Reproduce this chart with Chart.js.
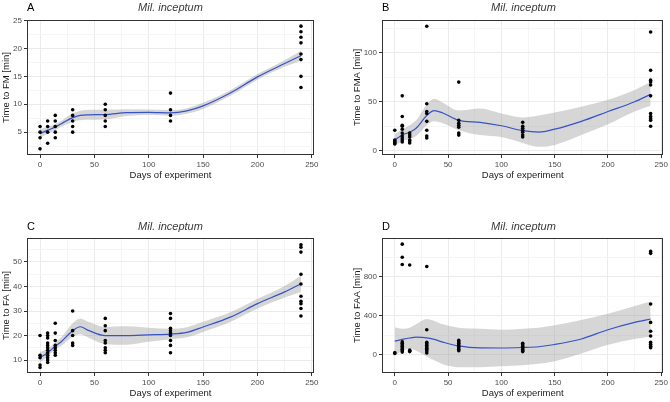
<!DOCTYPE html>
<html>
<head>
<meta charset="utf-8">
<script src="https://cdn.jsdelivr.net/npm/chart.js@4"></script>
<style>
  body { margin: 0; background: #fff; }
  #wrap { position: relative; width: 670px; height: 402px; font-family: "Liberation Sans", Arial, sans-serif; }
  canvas { position: absolute; }
  .tag { position: absolute; font-size: 11px; line-height: 13px; color: #000; }
  .ttl { position: absolute; font-size: 11px; line-height: 13px; color: #3a3a3a; font-style: italic; text-align: center; }
</style>
</head>
<body>
<div id="wrap">
  <canvas id="chartA" width="335" height="200" style="left:0;top:0"></canvas>
  <canvas id="chartB" width="335" height="200" style="left:335px;top:0"></canvas>
  <canvas id="chartC" width="335" height="202" style="left:0;top:200px"></canvas>
  <canvas id="chartD" width="335" height="202" style="left:335px;top:200px"></canvas>
  <div class="tag" style="left:27px;top:1px">A</div>
  <div class="ttl" style="left:27px;width:287px;top:1px">Mil. inceptum</div>
  <div class="tag" style="left:382px;top:1px">B</div>
  <div class="ttl" style="left:382px;width:283px;top:1px">Mil. inceptum</div>
  <div class="tag" style="left:27px;top:220px">C</div>
  <div class="ttl" style="left:27px;width:287px;top:220px">Mil. inceptum</div>
  <div class="tag" style="left:382px;top:220px">D</div>
  <div class="ttl" style="left:382px;width:283px;top:220px">Mil. inceptum</div>
</div>
<script>
// sampling days and the observed values per day
var days = [0, 7, 14, 30, 60, 120, 240];
var fmValues  = [[6, 5, 4, 2], [7, 6, 5, 3], [8, 7, 6, 5, 4], [9, 8, 7, 6, 5], [10, 9, 8, 7, 6], [12, 9, 8, 7], [24, 23, 22, 21, 19, 18, 15, 13]];
var fmaValues = [[21, 11, 10, 9, 8, 7], [56, 35, 26, 25, 22, 18, 15, 13, 11, 9], [18, 16, 14, 11, 10, 8], [127, 48, 40, 38, 30, 21, 15, 13], [70, 31, 28, 26, 24, 18, 16], [29, 25, 23, 21, 19, 16, 14], [121, 82, 72, 70, 67, 56, 38, 35, 33, 31, 25]];
var faValues  = [[20, 12, 11, 8, 7], [21, 20, 19, 17, 16, 15, 14, 13, 12, 11, 10, 9], [25, 21, 18, 16, 15, 14, 13, 12], [30, 22, 20, 17, 16], [27, 24, 22, 18, 17, 15, 14, 13], [29, 27, 23, 22, 21, 20, 18, 16, 13], [57, 56, 54, 45, 41, 36, 34, 33, 31, 28]];
var faaValues = [[20, 10], [1135, 1000, 925, 130, 115, 100, 85, 70, 55, 40, 25], [920, 45, 35, 30], [905, 255, 125, 110, 95, 80, 65, 50, 35, 15], [145, 130, 115, 100, 85, 70, 55, 40], [115, 100, 85, 70, 55, 40, 30], [1060, 1040, 520, 330, 240, 190, 125, 105, 85, 70]];

// loess fit and confidence band
var smoothDays = [0, 7, 14, 20, 30, 37, 45, 60, 80, 100, 120, 135, 150, 175, 200, 225, 240];
var fmFit    = [4.75, 5.35, 5.9, 6.55, 7.6, 8.0, 8.1, 8.15, 8.5, 8.55, 8.45, 8.8, 9.7, 12.0, 14.9, 17.3, 18.7];
var fmUpper  = [5.55, 5.95, 6.45, 7.1, 8.35, 8.85, 9.0, 9.0, 9.1, 9.05, 8.95, 9.3, 10.25, 12.5, 15.4, 17.9, 19.6];
var fmLower  = [3.95, 4.75, 5.35, 6.0, 6.85, 7.15, 7.2, 7.3, 7.9, 8.05, 7.95, 8.3, 9.15, 11.5, 14.4, 16.7, 17.8];
var fmaFit   = [11, 16, 19, 23, 36, 41, 38.5, 31, 29, 25.5, 20.5, 19, 22, 30, 40, 50, 57.5];
var fmaUpper = [17, 22, 26, 31, 47, 53, 49, 41, 43, 38, 34, 36, 39, 45, 52, 62, 70];
var fmaLower = [5, 10, 12, 15, 26, 30, 28, 21, 16, 14, 8, 4, 6, 16, 27, 40, 46];
var faFit    = [11, 13, 15.7, 17.7, 22, 23.6, 22, 20, 20, 20.3, 20.6, 21.3, 23.5, 27.5, 33, 37.8, 41.1];
var faUpper  = [13.3, 14.6, 17.1, 19.5, 25, 27, 25.5, 23.5, 23.8, 23.2, 22.8, 23.4, 25.6, 29.5, 35, 40.2, 44.5];
var faLower  = [9, 11.5, 14.3, 16, 19.5, 20.5, 19, 16.5, 16.3, 17.5, 18.5, 19.3, 21.5, 25.5, 31, 35.5, 37.8];
var faaFit   = [137, 155, 170, 178, 172, 155, 128, 88, 68, 67, 72, 80, 103, 160, 255, 330, 365];
var faaUpper = [280, 265, 275, 310, 365, 345, 310, 275, 265, 255, 265, 275, 300, 355, 420, 500, 545];
var faaLower = [-10, 40, 60, 40, -20, -60, -100, -130, -130, -120, -110, -95, -70, 10, 100, 160, 185];

// tick positions (major get labels, minor only grid lines)
var xMajor = [0, 50, 100, 150, 200, 250], xMinor = [25, 75, 125, 175, 225];
var fmMajor = [5, 10, 15, 20, 25], fmMinor = [2.5, 7.5, 12.5, 17.5, 22.5];
var fmaMajor = [0, 50, 100], fmaMinor = [25, 75, 125];
var faMajor = [10, 20, 30, 40, 50], faMinor = [15, 25, 35, 45, 55];
var faaMajor = [0, 400, 800], faaMinor = [200, 600, 1000];

var FONT = "'Liberation Sans', Arial, sans-serif";

function toPoints(values) {
  var pts = [];
  values.forEach(function(group, i) {
    group.forEach(function(v) { pts.push({ x: days[i], y: v }); });
  });
  return pts;
}

function toCurve(values) {
  return values.map(function(v, i) { return { x: smoothDays[i], y: v }; });
}

var panelBorder = {
  id: "panelBorder",
  afterDraw: function(chart) {
    var a = chart.chartArea, ctx = chart.ctx;
    ctx.save();
    ctx.strokeStyle = "#333333";
    ctx.lineWidth = 1;
    ctx.strokeRect(Math.round(a.left) + 0.5, Math.round(a.top) + 0.5, Math.round(a.right - a.left) - 1, Math.round(a.bottom - a.top) - 1);
    ctx.restore();
  }
};

function axisOpts(major, minor, min, max, title, fitFn, titlePad) {
  return {
    type: "linear",
    min: min, max: max,
    afterBuildTicks: function(axis) {
      axis.ticks = major.concat(minor).sort(function(a, b) { return a - b; })
        .filter(function(v) { return v >= min && v <= max; })
        .map(function(v) { return { value: v }; });
    },
    afterFit: fitFn,
    ticks: {
      autoSkip: false, maxRotation: 0, padding: 2,
      color: "#4d4d4d",
      font: { family: FONT, size: 8 },
      callback: function(v) { return major.indexOf(v) !== -1 ? String(v) : ""; }
    },
    grid: {
      color: function(c) { return c.tick && major.indexOf(c.tick.value) !== -1 ? "#ebebeb" : "#f5f5f5"; },
      tickColor: function(c) { return c.tick && major.indexOf(c.tick.value) !== -1 ? "#333333" : "rgba(0,0,0,0)"; },
      tickLength: 3,
      lineWidth: 1
    },
    border: { display: false },
    title: {
      display: true, text: title, color: "#1a1a1a",
      font: { family: FONT, size: 9.5 },
      padding: titlePad
    }
  };
}

function renderPanel(id, cfg) {
  var canvas = document.getElementById(id);
  new Chart(canvas, {
    type: "scatter",
    data: {
      datasets: [
        { data: toPoints(cfg.values), pointRadius: 1.8, pointBackgroundColor: "#000", pointBorderWidth: 0, pointBorderColor: "#000" },
        { type: "line", data: toCurve(cfg.fit), borderColor: "#3653c6", borderWidth: 1.2, pointRadius: 0, cubicInterpolationMode: "monotone", fill: false },
        { type: "line", data: toCurve(cfg.upper), borderColor: "rgba(0,0,0,0)", borderWidth: 0, pointRadius: 0, cubicInterpolationMode: "monotone",
          backgroundColor: "rgba(153,153,153,0.4)", fill: "+1" },
        { type: "line", data: toCurve(cfg.lower), borderColor: "rgba(0,0,0,0)", borderWidth: 0, pointRadius: 0, cubicInterpolationMode: "monotone", fill: false }
      ]
    },
    options: {
      responsive: false,
      animation: false,
      events: [],
      layout: { padding: cfg.padding },
      plugins: { legend: { display: false }, tooltip: { enabled: false } },
      scales: {
        x: axisOpts(xMajor, xMinor, -12, 252, "Days of experiment", function(s) { s.height = 26; }, { top: 0, bottom: 0 }),
        y: axisOpts(cfg.major, cfg.minor, cfg.min, cfg.max, cfg.ytitle, function(s) { s.width = cfg.yWidth; }, { top: 1, bottom: 0 })
      }
    },
    plugins: [panelBorder]
  });
}

renderPanel("chartA", { values: fmValues, fit: fmFit, upper: fmUpper, lower: fmLower, major: fmMajor, minor: fmMinor,
  min: 0.9, max: 25.1, ytitle: "Time to FM [min]", yWidth: 27, padding: { left: 0, right: 21, top: 20, bottom: 19 } });
renderPanel("chartB", { values: fmaValues, fit: fmaFit, upper: fmaUpper, lower: fmaLower, major: fmaMajor, minor: fmaMinor,
  min: -4.3, max: 133.3, ytitle: "Time to FMA [min]", yWidth: 31, padding: { left: 16, right: 5, top: 20, bottom: 19 } });
renderPanel("chartC", { values: faValues, fit: faFit, upper: faUpper, lower: faLower, major: faMajor, minor: faMinor,
  min: 4.75, max: 59.75, ytitle: "Time to FA [min]", yWidth: 27, padding: { left: 0, right: 21, top: 38, bottom: 3 } });
renderPanel("chartD", { values: faaValues, fit: faaFit, upper: faaUpper, lower: faaLower, major: faaMajor, minor: faaMinor,
  min: -190, max: 1198, ytitle: "Time to FAA [min]", yWidth: 31, padding: { left: 16, right: 5, top: 38, bottom: 3 } });
</script>
</body>
</html>
